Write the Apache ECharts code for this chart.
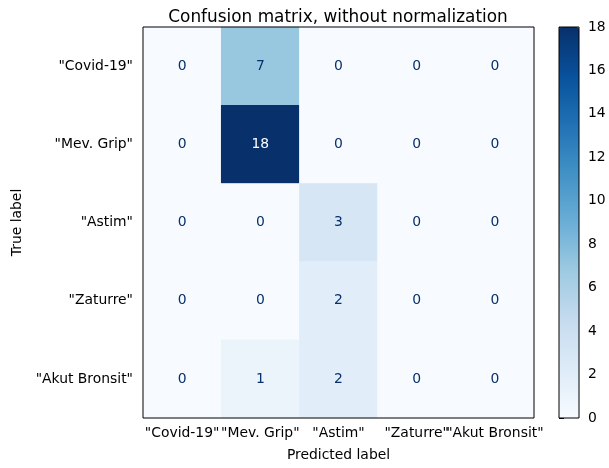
<!DOCTYPE html>
<html><head><meta charset="utf-8">
<script src="https://cdn.jsdelivr.net/npm/echarts@6/dist/echarts.min.js"></script>
<style>html,body{margin:0;padding:0;background:#fff}#c{width:609px;height:468px}</style>
</head><body><div id="c"></div>
<script>
const categories = ['"Covid-19"', '"Mev. Grip"', '"Astim"', '"Zaturre"', '"Akut Bronsit"'];
const matrixRows = [
  [0, 7, 0, 0, 0],
  [0, 18, 0, 0, 0],
  [0, 0, 3, 0, 0],
  [0, 0, 2, 0, 0],
  [0, 1, 2, 0, 0]
];
const colorbarTicks = [0, 2, 4, 6, 8, 10, 12, 14, 16, 18];

const blues = ['#f7fbff','#deebf7','#c6dbef','#9ecae1','#6baed6','#4292c6','#2171b5','#08519c','#08306b'];
const vmax = 18;
const data = [];
matrixRows.forEach((row, r) => row.forEach((v, c) => data.push([c, r, v])));

const font = 'DejaVu Sans';
const tickFont = 13.9;
const chart = echarts.init(document.getElementById('c'));
chart.setOption({
  animation: false,
  title: { text: 'Confusion matrix, without normalization', left: 333, textAlign: 'center', top: 4,
    textStyle: { fontFamily: font, fontSize: 16.9, fontWeight: 'normal', color: '#000' } },
  grid: [
    { left: 143, top: 27, width: 391, height: 391, show: true, z: 20, backgroundColor: 'transparent', borderColor: '#000', borderWidth: 1 },
    { left: 559, top: 27, width: 20, height: 391, show: true, z: 20, backgroundColor: 'transparent', borderColor: '#000', borderWidth: 1 }
  ],
  xAxis: [
    { type: 'category', data: categories, gridIndex: 0, name: 'Predicted label', nameLocation: 'middle', nameGap: 30,
      nameTextStyle: { fontFamily: font, fontSize: tickFont, color: '#000' },
      axisLine: { show: false }, axisTick: { alignWithLabel: true, length: 5, lineStyle: { color: '#000' } },
      axisLabel: { interval: 0, fontFamily: font, fontSize: tickFont, color: '#000', margin: 8 }, splitLine: { show: false } },
    { type: 'value', gridIndex: 1, min: 0, max: 1,
      axisLine: { show: false }, axisTick: { show: false }, axisLabel: { show: false }, splitLine: { show: false } }
  ],
  yAxis: [
    { type: 'category', data: categories, gridIndex: 0, inverse: true, name: 'True label', nameLocation: 'middle', nameGap: 116,
      nameTextStyle: { fontFamily: font, fontSize: tickFont, color: '#000' },
      axisLine: { show: false }, axisTick: { alignWithLabel: true, length: 5, lineStyle: { color: '#000' } },
      axisLabel: { interval: 0, fontFamily: font, fontSize: tickFont, color: '#000', margin: 10 }, splitLine: { show: false } },
    { type: 'value', gridIndex: 1, position: 'right', min: 0, max: 18, interval: 2,
      axisLine: { show: false }, axisTick: { show: true, length: 5, lineStyle: { color: '#000' } },
      axisLabel: { fontFamily: font, fontSize: tickFont, color: '#000', margin: 9 },
      splitLine: { show: false } }
  ],
  visualMap: {
    type: 'continuous', min: 0, max: vmax, seriesIndex: 0, calculable: false, showLabel: false, hoverLink: false,
    orient: 'vertical', left: 559, top: 27, itemWidth: 20, itemHeight: 391, padding: 0, z: 1,
    inRange: { color: blues }
  },
  series: [{
    type: 'heatmap', xAxisIndex: 0, yAxisIndex: 0,
    data: data.map(d => ({ value: d, label: { color: d[2] > vmax / 2 ? '#ffffff' : '#08306b' } })),
    label: { show: true, fontFamily: font, fontSize: tickFont, formatter: p => String(p.value[2]) },
    itemStyle: { borderWidth: 0 }
  }]
});
</script></body></html>
